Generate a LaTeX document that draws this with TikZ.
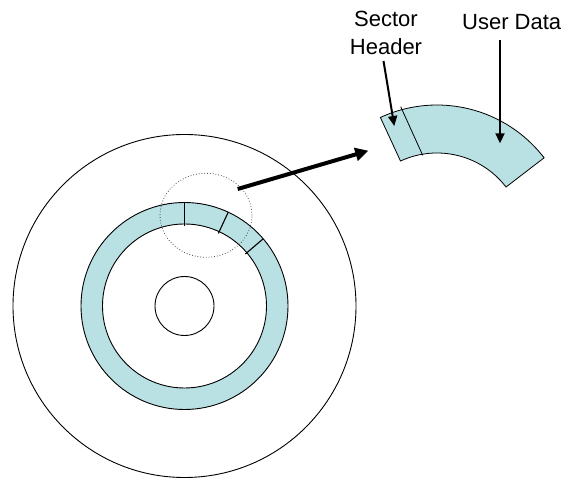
\documentclass[tikz,border=0pt]{standalone}
\usepackage{fontspec}
\setmainfont{Liberation Sans}
\usetikzlibrary{arrows.meta,shapes.geometric,calc}
\definecolor{trackblue}{RGB}{185,224,227}
\begin{document}
\begin{tikzpicture}[x=1pt,y=-1pt,
  outline/.style={draw=black,line width=0.9pt},
  lbl/.style={font=\fontsize{22}{28}\selectfont,inner sep=0pt,align=center},
  bigarrow/.style={line width=4pt,-{Triangle[length=13pt,width=13pt]}},
  smallarrow/.style={line width=2pt,-{Triangle[length=10pt,width=9pt]}},
  sectorline/.style={draw=black,line width=1.1pt}]
\useasboundingbox (0,0) rectangle (574,478);
% disk
\coordinate (c) at (184.5,306);
\node[circle,outline,minimum size=343pt,inner sep=0pt] (disk) at (c) {};
\fill[trackblue,even odd rule] (c) circle[radius=103.5] (c) circle[radius=82];
\draw[outline] (c) circle[radius=103.5];
\draw[outline] (c) circle[radius=82];
\node[circle,outline,minimum size=59pt,inner sep=0pt] (hub) at (c) {};
% sector boundaries on the track
\foreach \a in {90,65,40.5}
  \draw[sectorline] ($(c)+(-\a:103.5)$) -- ($(c)+(-\a:80)$);
% magnifier
\node[ellipse,draw=black!70,dotted,line width=0.8pt,minimum width=92pt,minimum height=84pt,inner sep=0pt] (zoom) at (206,215.3) {};
% enlarged sector
\coordinate (s) at (437,240);
\fill[trackblue,draw=black,line width=0.8pt] ($(s)+(-114.8:135)$) coordinate (ol)
  arc[start angle=-114.8,end angle=-37.5,radius=135] coordinate (or)
  -- ($(s)+(-37.5:87)$) coordinate (ir)
  arc[start angle=-37.5,end angle=-114.8,radius=87] coordinate (il) -- cycle;
\coordinate (hdtop) at (400.7,106.7);
\coordinate (hdbot) at (422.7,155.3);
\draw[line width=0.8pt] (hdtop) -- (hdbot);
% labels
\node[lbl] (sh) at (386,33) {Sector\\Header};
\node[lbl,anchor=base] (ud) at (511.7,30) {User Data};
\coordinate (shtip) at (394.3,126);
\coordinate (udtip) at (500,143.3);
\draw[smallarrow] ([xshift=-2.5pt,yshift=-6pt]sh.south) -- (shtip);
\draw[smallarrow] ([xshift=-11.7pt,yshift=-10pt]ud.south) -- (udtip);
% zoom arrow
\coordinate (zstart) at (237.7,189);
\coordinate (ztip) at (368.3,150.7);
\draw[bigarrow] (zstart) -- (ztip);
\end{tikzpicture}
\end{document}
